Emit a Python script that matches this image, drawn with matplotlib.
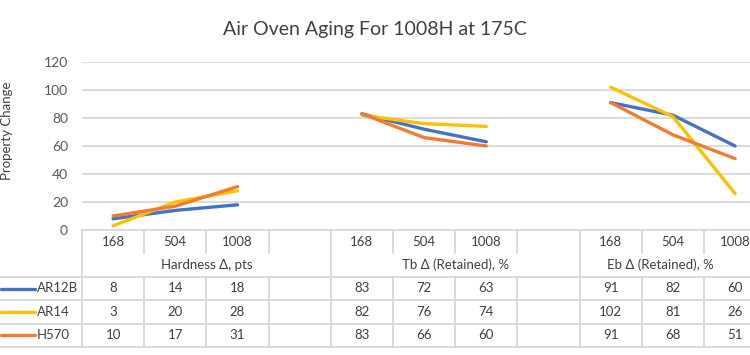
import matplotlib.pyplot as plt
import numpy as np

plt.rcParams['font.family'] = ['Lato', 'DejaVu Sans']

# ================= DATA =================
hours = ['168', '504', '1008']
groups = ['Hardness Δ, pts', 'Tb Δ (Retained), %', 'Eb Δ (Retained), %']
series_names = ['AR12B', 'AR14', 'H570']

ar12b = [8, 14, 18, 83, 72, 63, 91, 82, 60]
ar14 = [3, 20, 28, 82, 76, 74, 102, 81, 26]
h570 = [10, 17, 31, 83, 66, 60, 91, 68, 51]

data = [ar12b, ar14, h570]
colors = ['#4472C4', '#FFC000', '#ED7D31']

# ================= LAYOUT =================
W, H = 750, 355
col_w = 62.2          # width of one category column (px)
left_px = 82          # left edge of plot area (px)
n_cat = 11            # 3 groups x 3 hours + 2 blank spacers
grid_c = '#D9D9D9'
txt_c = '#404040'


def box(x0, y0, x1, y1):
    return [x0 / W, 1 - y1 / H, (x1 - x0) / W, (y1 - y0) / H]


fig = plt.figure(figsize=(W / 100, H / 100), dpi=100)
right_px = left_px + n_cat * col_w

# ================= PLOT =================
ax = fig.add_axes(box(left_px, 62, right_px, 230))
ax.set_xlim(-0.5, n_cat - 0.5)
ax.set_ylim(0, 120)
ax.set_yticks(range(0, 121, 20))
ax.set_xticks([])
ax.yaxis.grid(True, color=grid_c, linewidth=1.3)
ax.set_axisbelow(True)
for s in ax.spines.values():
    s.set_visible(False)
ax.tick_params(axis='y', length=0, pad=10, labelsize=10, labelcolor='#595959')

for vals, c in zip(data, colors):
    for g in range(len(groups)):
        xs = g * 4 + np.arange(len(hours))
        ys = vals[g * 3:(g + 1) * 3]
        ax.plot(xs, ys, color=c, linewidth=2.4, solid_capstyle='round',
                clip_on=False, zorder=3)

fig.text(0.5, 1 - 30 / H, 'Air Oven Aging For 1008H at 175C', ha='center',
         va='center', fontsize=14, color=txt_c)
fig.text(1 / W, 1 - 131 / H, 'Property Change', rotation=90, ha='left',
         va='center', fontsize=9.5, color=txt_c)

# ================= DATA TABLE =================
tax = fig.add_axes(box(0, 230, right_px, 347))
x_min = -0.5 - left_px / col_w
tax.set_xlim(x_min, n_cat - 0.5)
tax.set_ylim(0, 5)
tax.axis('off')

lk = dict(color=grid_c, linewidth=1.3, clip_on=False)
# horizontal rules
tax.plot([-0.5, n_cat - 0.5], [5, 5], **lk)
for y in [3, 2, 1, 0]:
    tax.plot([x_min, n_cat - 0.5], [y, y], **lk)
# vertical rules
for k in range(n_cat + 1):
    xb = k - 0.5
    if k in (0, 4, 8):
        tax.plot([xb, xb], [0, 5], **lk)
    else:
        tax.plot([xb, xb], [0, 3], **lk)
        tax.plot([xb, xb], [4, 5], **lk)

tk = dict(ha='center', va='center', fontsize=9.5, color=txt_c)
for g, gname in enumerate(groups):
    for i, h in enumerate(hours):
        tax.text(g * 4 + i, 4.5, h, **tk)
    gx = g * 4 + 1.5 if g < 2 else 8.8
    tax.text(gx, 3.5, gname, **tk)

for r, (name, vals, c) in enumerate(zip(series_names, data, colors)):
    yc = 2.5 - r
    tax.plot([x_min + 1 / col_w, x_min + 35 / col_w], [yc, yc], color=c,
             linewidth=2.4, solid_capstyle='round', clip_on=False)
    tax.text(x_min + 37 / col_w, yc, name, ha='left', va='center',
             fontsize=9.5, color=txt_c)
    for g in range(len(groups)):
        for i in range(len(hours)):
            tax.text(g * 4 + i, yc, str(vals[g * 3 + i]), **tk)

fig.savefig('out.png', dpi=100)
